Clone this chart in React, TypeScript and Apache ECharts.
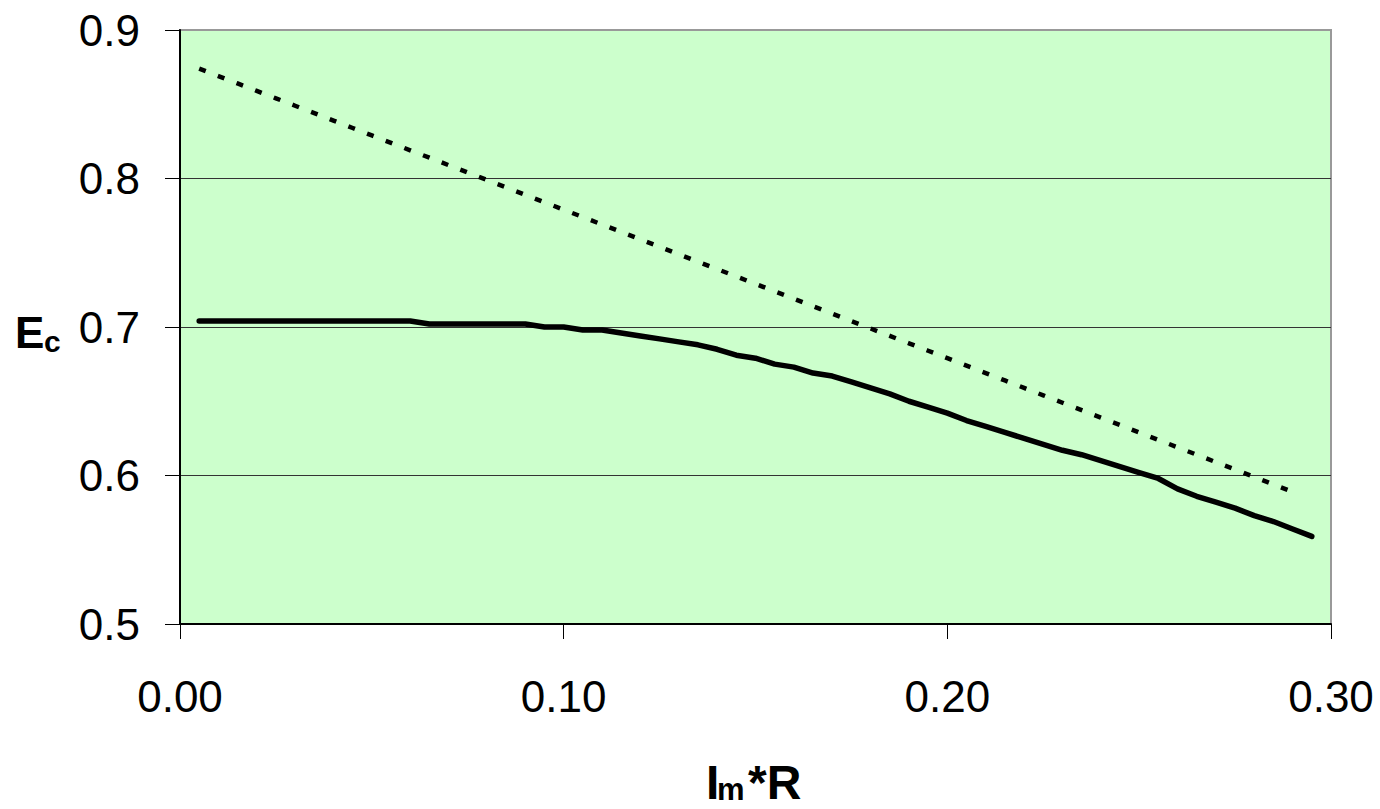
import React, { useEffect, useRef } from "react";
import * as echarts from "echarts";

const xValues = [
  0.005, 0.01, 0.015, 0.02, 0.025, 0.03, 0.035, 0.04, 0.045, 0.05,
  0.055, 0.06, 0.065, 0.07, 0.075, 0.08, 0.085, 0.09, 0.095, 0.1,
  0.105, 0.11, 0.115, 0.12, 0.125, 0.13, 0.135, 0.14, 0.145, 0.15,
  0.155, 0.16, 0.165, 0.17, 0.175, 0.18, 0.185, 0.19, 0.195, 0.2,
  0.205, 0.21, 0.215, 0.22, 0.225, 0.23, 0.235, 0.24, 0.245, 0.25,
  0.255, 0.26, 0.265, 0.27, 0.275, 0.28, 0.285, 0.29, 0.295,
];

const solidValues = [
  0.704, 0.704, 0.704, 0.704, 0.704, 0.704, 0.704, 0.704, 0.704, 0.704,
  0.704, 0.704, 0.702, 0.702, 0.702, 0.702, 0.702, 0.702, 0.7, 0.7,
  0.698, 0.698, 0.696, 0.694, 0.692, 0.69, 0.688, 0.685, 0.681, 0.679,
  0.675, 0.673, 0.669, 0.667, 0.663, 0.659, 0.655, 0.65, 0.646, 0.642,
  0.637, 0.633, 0.629, 0.625, 0.621, 0.617, 0.614, 0.61, 0.606, 0.602,
  0.598, 0.591, 0.586, 0.582, 0.578, 0.573, 0.569, 0.564, 0.559,
];

const dashedValues = [
  0.874, 0.869, 0.864, 0.859, 0.854, 0.849, 0.844, 0.839, 0.834, 0.829,
  0.824, 0.819, 0.814, 0.809, 0.804, 0.799, 0.794, 0.789, 0.784, 0.779,
  0.774, 0.769, 0.764, 0.759, 0.754, 0.749, 0.744, 0.739, 0.734, 0.729,
  0.724, 0.719, 0.714, 0.709, 0.704, 0.699, 0.694, 0.689, 0.684, 0.679,
  0.674, 0.669, 0.664, 0.659, 0.654, 0.649, 0.644, 0.639, 0.634, 0.629,
  0.624, 0.619, 0.614, 0.609, 0.604, 0.599, 0.594, 0.589,
];

const FONT = "'Liberation Sans', Arial, sans-serif";

export default function App() {
  const ref = useRef<HTMLDivElement>(null);

  useEffect(() => {
    if (!ref.current) return;
    const chart = echarts.init(ref.current, undefined, { renderer: "svg" });
    const solidData = xValues.map((x, i) => [x, solidValues[i]]);
    const dashedData = dashedValues.map((y, i) => [xValues[i], y]);

    chart.setOption({
      animation: false,
      backgroundColor: "#ffffff",
      grid: {
        left: 180,
        right: 49,
        top: 30,
        bottom: 185,
        show: true,
        backgroundColor: "#CCFFCC",
        borderColor: "#999999",
        borderWidth: 2,
      },
      xAxis: {
        type: "value",
        min: 0,
        max: 0.3,
        interval: 0.1,
        axisLine: { show: true, lineStyle: { color: "#000", width: 2 } },
        axisTick: { show: true, length: 15, inside: false, lineStyle: { color: "#000", width: 1 } },
        axisLabel: {
          margin: 50,
          color: "#000",
          fontSize: 44,
          fontFamily: FONT,
          formatter: (v: number) => v.toFixed(2),
        },
        splitLine: { show: false },
      },
      yAxis: {
        type: "value",
        min: 0.5,
        max: 0.9,
        interval: 0.1,
        axisLine: { show: true, lineStyle: { color: "#000", width: 2 } },
        axisTick: { show: true, length: 15, inside: false, lineStyle: { color: "#000", width: 1 } },
        axisLabel: {
          margin: 40,
          color: "#000",
          fontSize: 44,
          fontFamily: FONT,
          formatter: (v: number) => v.toFixed(1),
        },
        splitLine: {
          show: true,
          lineStyle: { color: ["#000", "#333", "#333", "#333", "#999"], width: 1 },
        },
      },
      series: [
        {
          type: "line",
          data: dashedData,
          showSymbol: false,
          lineStyle: { color: "#000", width: 4.5, type: [7, 13], cap: "butt" },
        },
        {
          type: "line",
          data: solidData,
          showSymbol: false,
          lineStyle: { color: "#000", width: 5.5, cap: "round", join: "round" },
        },
      ],
      graphic: [
        {
          type: "text",
          left: 15,
          top: 310,
          style: { text: "E", font: `bold 44px ${FONT}`, fill: "#000" },
        },
        {
          type: "text",
          left: 44,
          top: 326,
          style: { text: "c", font: `bold 30px ${FONT}`, fill: "#000" },
        },
        {
          type: "text",
          left: 706,
          top: 758,
          style: { text: "I", font: `bold 48px ${FONT}`, fill: "#000" },
        },
        {
          type: "text",
          left: 717,
          top: 774,
          style: { text: "m", font: `bold 31px ${FONT}`, fill: "#000" },
        },
        {
          type: "text",
          left: 748,
          top: 758,
          style: { text: "*R", font: `bold 48px ${FONT}`, fill: "#000" },
        },
      ],
    });
    return () => chart.dispose();
  }, []);

  return (
    <div
      ref={ref}
      style={{ position: "fixed", left: 0, top: 0, width: 1380, height: 809 }}
    />
  );
}
